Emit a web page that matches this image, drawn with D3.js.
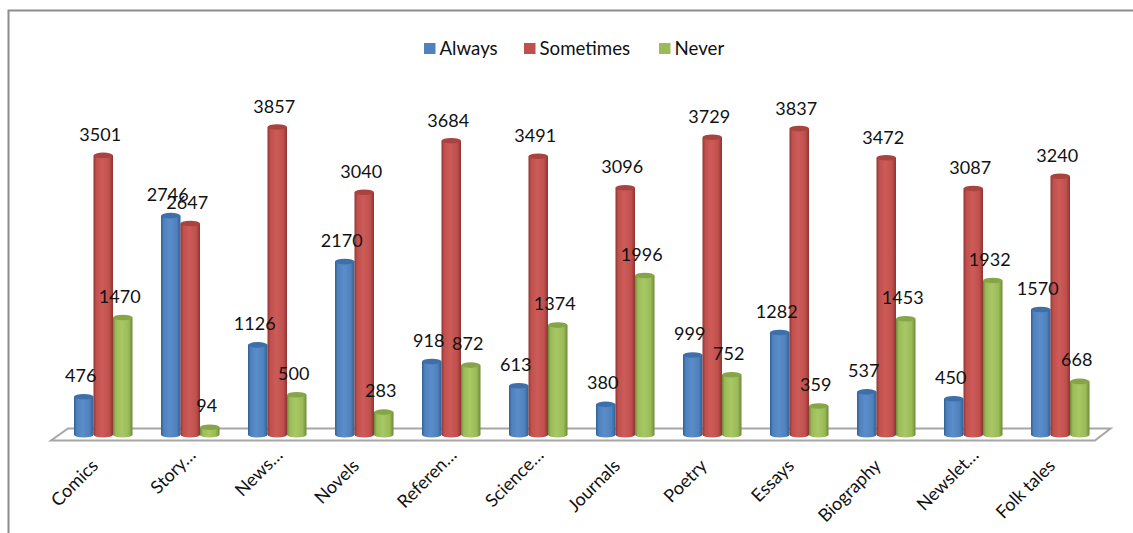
<!DOCTYPE html>
<html>
<head>
<meta charset="utf-8">
<script src="https://cdn.jsdelivr.net/npm/d3@7"></script>
<style>
html,body{margin:0;padding:0;background:#fff}
svg{display:block}
text{font-family:Lato,"Open Sans",sans-serif;fill:#111}
</style>
</head>
<body>
<svg id="chart" width="1133" height="533"></svg>
<script>
const categories = ["Comics","Story…","News…","Novels","Referen…","Science…","Journals","Poetry","Essays","Biography","Newslet…","Folk tales"];
const seriesNames = ["Always","Sometimes","Never"];
const always    = [476,2746,1126,2170,918,613,380,999,1282,537,450,1570];
const sometimes = [3501,2647,3857,3040,3684,3491,3096,3729,3837,3472,3087,3240];
const never     = [1470,94,500,283,872,1374,1996,752,359,1453,1932,668];
const seriesValues = [always,sometimes,never];
const palette = [
  {base:"#4f81bd",dark:"#2f5f96",light:"#5b8dca",top:"#3f6fa8"},
  {base:"#c0504d",dark:"#8f3431",light:"#cd5c59",top:"#a94340"},
  {base:"#9bbb59",dark:"#6d8a38",light:"#a8c865",top:"#86a548"}
];

const svg = d3.select("#chart");
const defs = svg.append("defs");

// Horizontal shading gives each column its rounded look
palette.forEach((c,i)=>{
  const g = defs.append("linearGradient").attr("id","cyl"+i);
  [[0,c.dark],[0.14,c.base],[0.45,c.light],[0.8,c.base],[1,c.dark]].forEach(([o,col])=>
    g.append("stop").attr("offset",o).attr("stop-color",col));
});

const x = d3.scaleBand().domain(categories).range([52,1096]);
const y = d3.scaleLinear().domain([0,3857]).range([434.7,127]);
const labelY = d3.scaleLinear().domain([0,3857]).range([419.5,113]);
const inner = d3.scaleBand().domain(seriesNames).range([0,58.5]);
const groupLeft = c => x(c)+22;

// Outer frame: only the top and left rules are visible
svg.append("path").attr("d","M8.5,533V10.5H1133").attr("fill","none").attr("stroke","#8c8c8c").attr("stroke-width",2);

// Floor of the 3D plot
const floor = d3.path();
floor.moveTo(x.range()[0]-1,440.5);
floor.lineTo(x.range()[0]+16,428.5);
floor.lineTo(x.range()[1]+14.5,428.5);
floor.lineTo(x.range()[1]-1,440.5);
floor.closePath();
svg.append("path").attr("d",floor.toString()).attr("fill","#fff").attr("stroke","#a6a6a6").attr("stroke-width",2);

// Columns
const ry = 2.8;
seriesNames.forEach((name,s)=>{
  const g = svg.append("g").attr("class","series-"+s);
  categories.forEach((c,i)=>{
    const v = seriesValues[s][i];
    const x0 = groupLeft(c)+inner(name), w = inner.bandwidth(), x1 = x0+w;
    const yTop = y(v), yBase = y(0);
    g.append("path")
      .attr("d",`M${x0},${yTop}V${yBase}A${w/2},${ry} 0 0 0 ${x1},${yBase}V${yTop}Z`)
      .attr("fill",`url(#cyl${s})`);
    g.append("ellipse").attr("cx",x0+w/2).attr("cy",yTop).attr("rx",w/2).attr("ry",ry)
      .attr("fill",palette[s].top);
  });
});

// Value labels sit above each column, nudged slightly left
seriesNames.forEach((name,s)=>{
  categories.forEach((c,i)=>{
    const v = seriesValues[s][i];
    svg.append("text")
      .attr("x",groupLeft(c)+inner(name)+inner.bandwidth()/2-3)
      .attr("y",labelY(v))
      .attr("text-anchor","middle")
      .attr("font-size",18)
      .text(v);
  });
});

// Slanted category labels; shortened names keep a little trailing room
categories.forEach(c=>{
  const tx = groupLeft(c)+inner.range()[1]/2-13, ty = 458;
  svg.append("text")
    .attr("transform",`translate(${tx},${ty}) rotate(-45)`)
    .attr("text-anchor","end")
    .attr("dx",c.endsWith("…") ? 15 : 0)
    .attr("dy","0.7em")
    .attr("font-size",18)
    .text(c);
});

// Legend
const legendX = d3.scaleOrdinal().domain(seriesNames).range([424,524,659]);
seriesNames.forEach((name,s)=>{
  svg.append("rect").attr("x",legendX(name)).attr("y",43).attr("width",11.5).attr("height",11)
    .attr("fill",palette[s].base);
  svg.append("text").attr("x",legendX(name)+15.5).attr("y",55).attr("font-size",18.7).text(name);
});
</script>
</body>
</html>
